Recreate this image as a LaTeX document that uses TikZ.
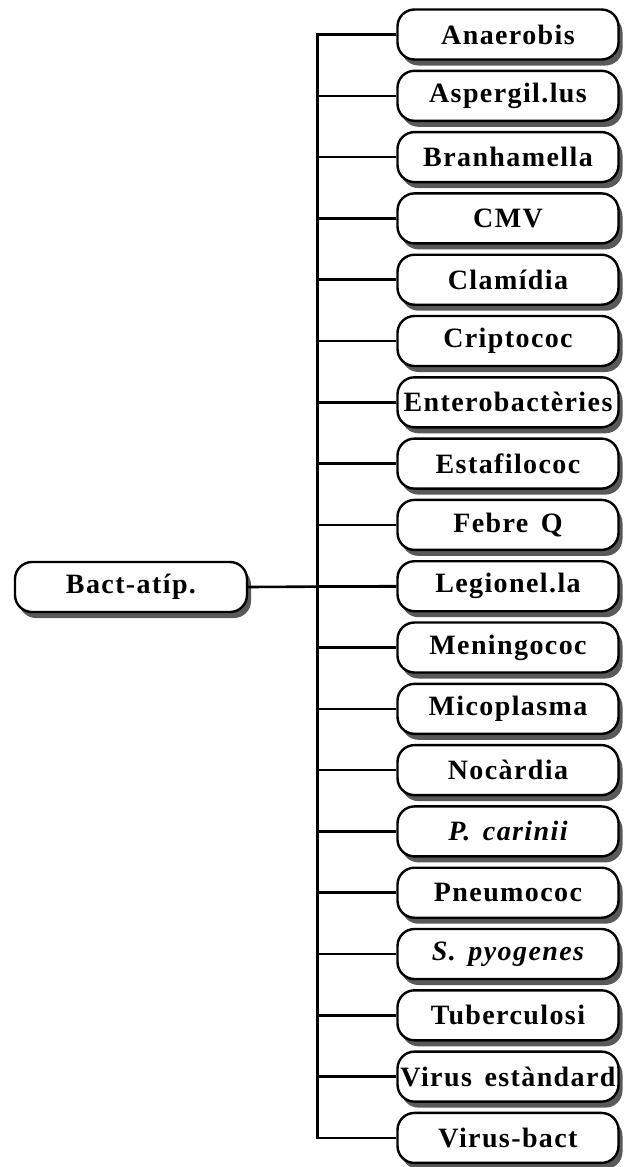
\documentclass[tikz,border=0pt]{standalone}
\usepackage{fontspec}
\setmainfont{Liberation Serif}
\newfontfamily\labelfont{Liberation Serif Bold}[LetterSpace=5,
  ItalicFont={Liberation Serif Bold Italic}]
\usetikzlibrary{shadows}
\newcommand{\gap}{\hspace{0.45em}}
\begin{document}
\begin{tikzpicture}[x=1pt,y=-1pt,
  pill/.style={draw, line width=2.4pt, rounded corners=17pt, fill=white,
    inner sep=0pt, minimum height=50pt,
    font=\labelfont\fontsize{28}{30}\selectfont,
    drop shadow={shadow xshift=4pt, shadow yshift=-6pt, fill=black!65, opacity=1}},
  leaf/.style={pill, minimum width=221pt},
  link/.style={line width=2.6pt}]
  \useasboundingbox (0,0) rectangle (624,1167);
  % root node
  \node[pill, minimum width=232pt] (root) at (131,587) {Bact-atíp.};
  % leaves
  \foreach \t [count=\i] in {Anaerobis, Aspergil.lus, Branhamella, CMV, Clamídia,
      Criptococ, Enterobactèries, Estafilococ, Febre\gap Q, Legionel.la, Meningococ,
      Micoplasma, Nocàrdia, {\itshape P.\gap carinii}, Pneumococ,
      {\itshape S.\gap pyogenes}, Tuberculosi, Virus\gap estàndard, Virus-bact}
    \node[leaf] (n\i) at (508,{34.5+61.3*(\i-1)}) {\t};
  % trunk and branches
  \draw[link] (n1.west) -- ++(-79,0) |- (n19.west);
  \foreach \i in {2,...,18}
    \draw[link] (n\i.west) -- ++(-79,0);
  \draw[link] (root.east) -- (n10.west);
\end{tikzpicture}
\end{document}
